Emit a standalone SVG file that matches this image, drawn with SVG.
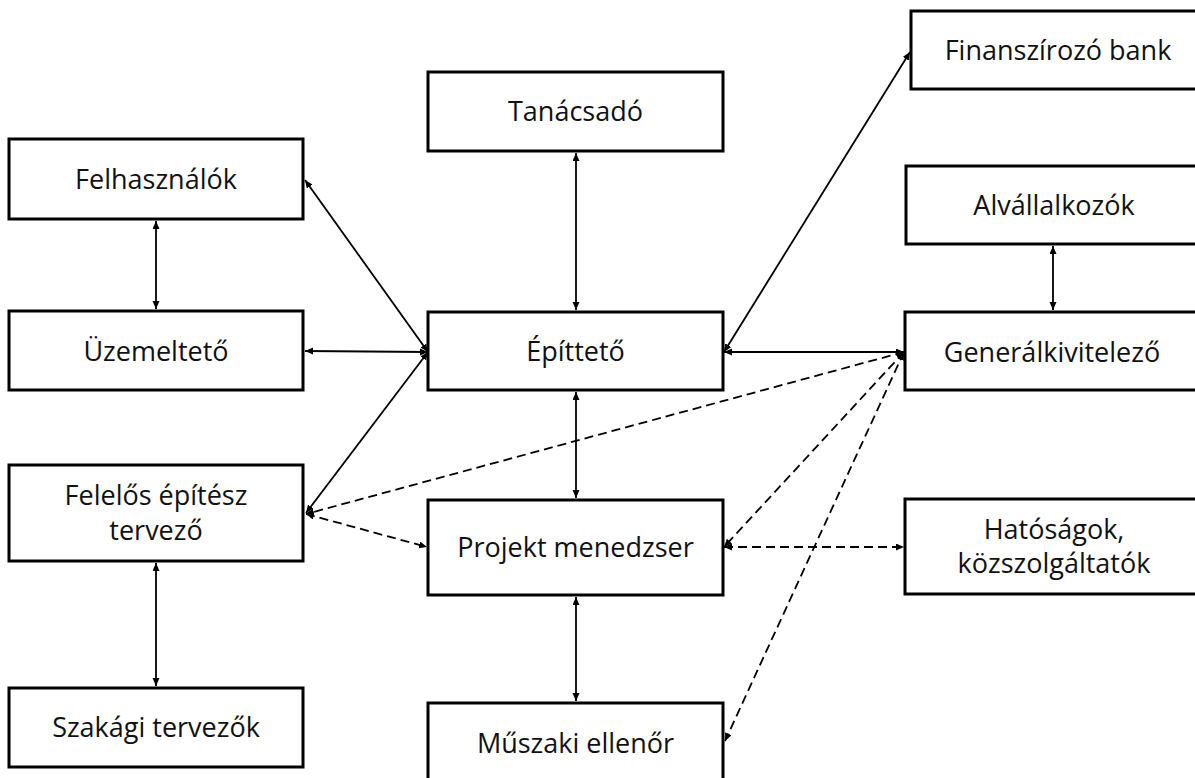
<svg xmlns="http://www.w3.org/2000/svg" width="1195" height="778" viewBox="0 0 1195 778">
<style>
.box{fill:#fff;stroke:#000;stroke-width:3}
.lbl{font-family:"Open Sans","Noto Sans","DejaVu Sans",sans-serif;font-size:27px;fill:#111;text-anchor:middle}
.c{fill:none;stroke:#000;stroke-width:1.8;marker-start:url(#ah);marker-end:url(#ah)}
.d{stroke-dasharray:9 5}
</style>
<defs>
<marker id="ah" markerUnits="userSpaceOnUse" markerWidth="9" markerHeight="8" refX="8" refY="3.5" orient="auto-start-reverse">
<path d="M0,0 L8,3.5 L0,7 z" fill="#000"/>
</marker>
</defs>
<rect width="1195" height="778" fill="#fff"/>
<g id="connectors">
<line class="c" x1="576" y1="153" x2="576" y2="310"/>
<line class="c" x1="156" y1="221" x2="156" y2="309"/>
<line class="c" x1="156" y1="563" x2="156" y2="686"/>
<line class="c" x1="576" y1="392" x2="576" y2="498"/>
<line class="c" x1="576" y1="597" x2="576" y2="701"/>
<line class="c" x1="1053" y1="246" x2="1053" y2="310"/>
<line class="c" x1="428" y1="352" x2="305" y2="180"/>
<line class="c" x1="428" y1="352" x2="305" y2="351"/>
<line class="c" x1="428" y1="352" x2="306" y2="513"/>
<line class="c" x1="724" y1="352" x2="910" y2="52"/>
<line class="c" x1="724" y1="352" x2="904" y2="352"/>
<line class="c d" x1="904" y1="352" x2="306" y2="514"/>
<line class="c d" x1="306" y1="514" x2="427" y2="547"/>
<line class="c d" x1="904" y1="352" x2="724" y2="547"/>
<line class="c d" x1="724" y1="547" x2="904" y2="547"/>
<line class="c d" x1="904" y1="352" x2="725" y2="741"/>
</g>
<g id="tanacsado"><rect class="box" x="428" y="72" width="295" height="79"/><text class="lbl" x="575.5" y="121">Tanácsadó</text></g>
<g id="felhasznalok"><rect class="box" x="9" y="139" width="294" height="80"/><text class="lbl" x="156" y="189">Felhasználók</text></g>
<g id="uzemelteto"><rect class="box" x="9" y="311" width="294" height="79"/><text class="lbl" x="156" y="361">Üzemeltető</text></g>
<g id="felelos"><rect class="box" x="9" y="465" width="294" height="96"/><text class="lbl" x="156" y="505">Felelős építész</text><text class="lbl" x="156" y="540">tervező</text></g>
<g id="szakagi"><rect class="box" x="9" y="688" width="294" height="79"/><text class="lbl" x="156" y="737">Szakági tervezők</text></g>
<g id="epitteto"><rect class="box" x="428" y="312" width="295" height="78"/><text class="lbl" x="575.5" y="361">Építtető</text></g>
<g id="projekt"><rect class="box" x="428" y="500" width="295" height="95"/><text class="lbl" x="575.5" y="557">Projekt menedzser</text></g>
<g id="muszaki"><rect class="box" x="428" y="703" width="295" height="90"/><text class="lbl" x="575.5" y="753">Műszaki ellenőr</text></g>
<g id="bank"><rect class="box" x="911" y="11" width="300" height="78"/><text class="lbl" x="1058" y="60">Finanszírozó bank</text></g>
<g id="alvallalkozok"><rect class="box" x="906" y="166" width="300" height="78"/><text class="lbl" x="1054" y="215">Alvállalkozók</text></g>
<g id="generalkivitelezo"><rect class="box" x="905" y="312" width="300" height="78"/><text class="lbl" x="1052" y="362">Generálkivitelező</text></g>
<g id="hatosagok"><rect class="box" x="905" y="499" width="300" height="95"/><text class="lbl" x="1054" y="539">Hatóságok,</text><text class="lbl" x="1054" y="573">közszolgáltatók</text></g>
</svg>
